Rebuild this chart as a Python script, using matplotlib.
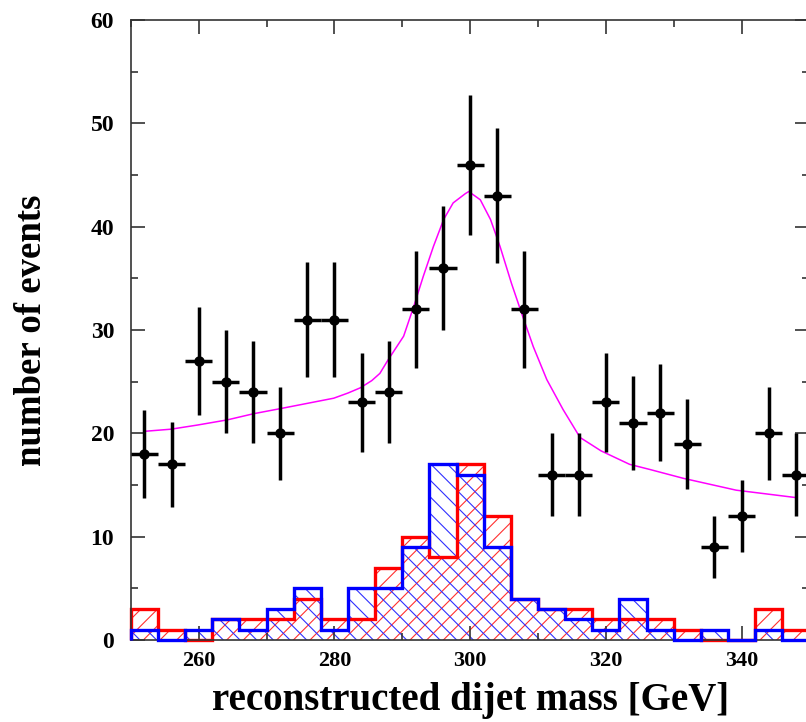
import numpy as np
import matplotlib
matplotlib.use("Agg")
import matplotlib.pyplot as plt
from matplotlib.ticker import MultipleLocator

plt.rcParams['font.family'] = ['Liberation Serif', 'DejaVu Serif']
plt.rcParams['font.weight'] = 'bold'
plt.rcParams['hatch.linewidth'] = 0.8

# 4 GeV bins from 250 to 350 GeV
bin_edges = [250, 254, 258, 262, 266, 270, 274, 278, 282, 286, 290, 294, 298,
             302, 306, 310, 314, 318, 322, 326, 330, 334, 338, 342, 346, 350]
bin_centers = [252, 256, 260, 264, 268, 272, 276, 280, 284, 288, 292, 296, 300,
               304, 308, 312, 316, 320, 324, 328, 332, 336, 340, 344, 348]

# observed events per bin
data_counts = [18, 17, 27, 25, 24, 20, 31, 31, 23, 24, 32, 36, 46,
               43, 32, 16, 16, 23, 21, 22, 19, 9, 12, 20, 16]

# signal histograms
red_counts = [3, 1, 0, 2, 2, 2, 4, 2, 2, 7, 10, 8, 17,
              12, 4, 3, 3, 2, 2, 2, 1, 0, 0, 3, 1]
blue_counts = [1, 0, 1, 2, 1, 3, 5, 1, 5, 5, 9, 17, 16,
               9, 4, 3, 2, 1, 4, 1, 0, 1, 0, 1, 0]

# fitted curve (peak + background)
fit_mass = [252.1, 255.9, 259.8, 264.2, 268.1, 272.1, 276.0, 279.9, 282.0,
            283.8, 285.5, 286.7, 287.9, 290.2, 291.7, 293.1, 294.6, 296.1,
            297.5, 299.3, 299.8, 301.5, 303.0, 304.4, 306.1, 307.6, 309.3,
            311.3, 313.7, 316.2, 319.3, 323.5, 326.5, 331.4, 339.2, 347.8]
fit_events = [20.2, 20.4, 20.8, 21.3, 21.9, 22.4, 22.9, 23.4, 23.9,
              24.4, 25.1, 25.8, 27.1, 29.4, 32.3, 35.2, 38.1, 40.7,
              42.3, 43.2, 43.4, 42.6, 40.7, 38.1, 34.5, 31.6, 28.4,
              25.2, 22.3, 19.6, 18.3, 17.0, 16.5, 15.65, 14.5, 13.8]

W, H = 806, 722
fig = plt.figure(figsize=(W / 100, H / 100), dpi=100)
x0, x1 = 130.85, 809.4
y0, y1 = 640, 20
ax = fig.add_axes([x0 / W, (H - y0) / H, (x1 - x0) / W, (y0 - y1) / H])

# hatched fills
ax.stairs(red_counts, bin_edges, baseline=0, fill=True, facecolor='none',
          edgecolor='#ff3030', hatch='//', linewidth=0, zorder=1)
ax.stairs(blue_counts, bin_edges, baseline=0, fill=True, facecolor='none',
          edgecolor='#3030ff', hatch='\\\\', linewidth=0, zorder=1)
# outlines
ax.stairs(red_counts, bin_edges, baseline=0, color='#ff0000', linewidth=2.4,
          zorder=2, clip_on=False)
ax.stairs(blue_counts, bin_edges, baseline=0, color='#0000ff', linewidth=2.4,
          zorder=3, clip_on=False)

# fit
ax.plot(fit_mass, fit_events, color='#ff00ff', linewidth=1.1, zorder=4)

# data with Poisson errors
counts = np.array(data_counts, dtype=float)
ax.errorbar(bin_centers, counts, yerr=np.sqrt(counts), xerr=2.0,
            fmt='o', color='black', markersize=6.5, elinewidth=2.5,
            capsize=0, zorder=5)

ax.set_xlim(250, 350)
ax.set_ylim(0, 60)
ax.xaxis.set_major_locator(MultipleLocator(20))
ax.xaxis.set_minor_locator(MultipleLocator(10))
ax.yaxis.set_major_locator(MultipleLocator(10))
ax.yaxis.set_minor_locator(MultipleLocator(5))
ax.tick_params(which='both', direction='in', top=True, right=True,
               color='#333333', width=1.2)
ax.tick_params(which='major', length=10)
ax.tick_params(which='minor', length=5)
ax.tick_params(axis='x', which='major', pad=8, labelsize=16)
ax.tick_params(axis='y', which='major', pad=12, labelsize=17)
for lbl in ax.get_xticklabels() + ax.get_yticklabels():
    lbl.set_fontweight('bold')
for s in ax.spines.values():
    s.set_color('#333333')
    s.set_linewidth(1.2)

ax.set_xlabel('reconstructed dijet mass [GeV]', fontsize=28, fontweight='bold',
              va='center')
ax.xaxis.set_label_coords(0.5, -0.0968)
ax.set_ylabel('number of events', fontsize=26.5, fontweight='bold', va='center')
ax.yaxis.set_label_coords(-0.147, 0.5)

fig.savefig('out.png', dpi=100)
